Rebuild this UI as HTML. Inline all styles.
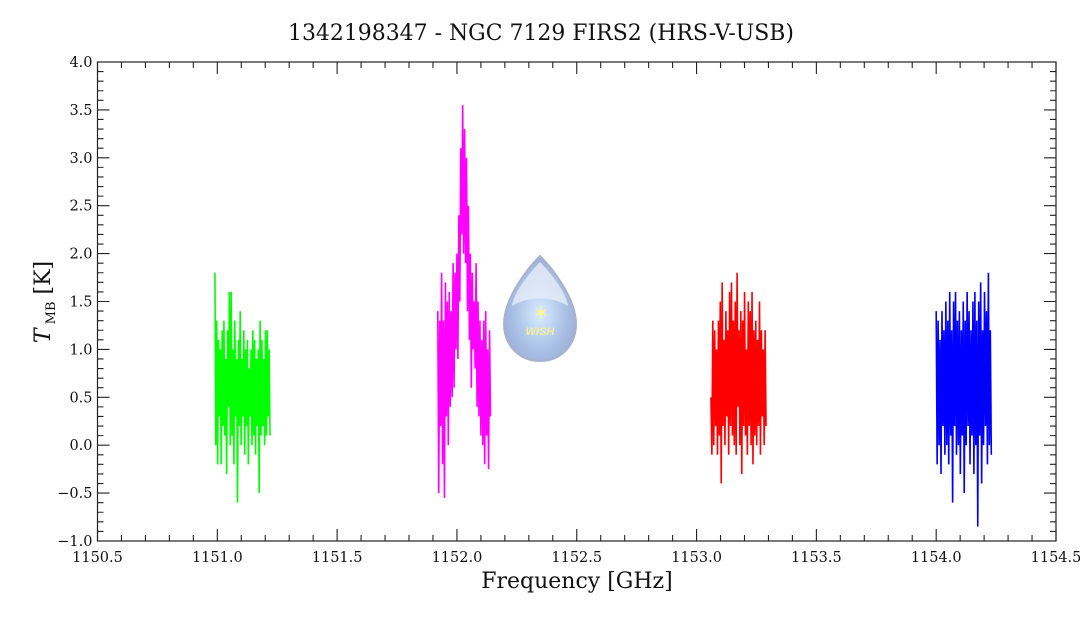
<!DOCTYPE html>
<html><head><meta charset="utf-8"><style>
body{margin:0;background:#fff;}
svg text{font-family:"DejaVu Serif","Liberation Serif",serif;fill:#111;}
</style></head><body>
<svg id="chart" width="1080" height="618" viewBox="0 0 1080 618" xmlns="http://www.w3.org/2000/svg">
<rect width="1080" height="618" fill="#fff"/>
<text x="541" y="40" text-anchor="middle" font-size="22" textLength="506" lengthAdjust="spacingAndGlyphs">1342198347 - NGC 7129 FIRS2 (HRS-V-USB)</text>
<g id="axes"></g>
<g id="series"></g>
<g>
<defs>
<radialGradient id="lg" cx="0.5" cy="0.55" r="0.6"><stop offset="0" stop-color="#d8ecff"/><stop offset="0.6" stop-color="#a9c0e6"/><stop offset="1" stop-color="#9aa8d0"/></radialGradient>
</defs>
<path d="M540,256 C552,268 576,298 576,324 C576,346 560,361 540,361 C520,361 504,346 504,324 C504,298 528,268 540,256 Z" fill="url(#lg)" stroke="#a8b2cf" stroke-width="2"/>
<path d="M540,262 C550,272 566,292 568,306 C552,296 528,296 512,306 C514,292 530,272 540,262 Z" fill="#e6eef8" opacity="0.8"/>
<text x="541" y="319" text-anchor="middle" font-size="18" style="fill:#fff78a">✶</text>
<text x="540" y="335" text-anchor="middle" font-size="11" font-style="italic" font-weight="bold" style="fill:#f4f09a;font-family:'Liberation Sans',sans-serif">WISH</text>
</g>
<text x="577" y="588" text-anchor="middle" font-size="22">Frequency [GHz]</text>
<text transform="translate(50,302) rotate(-90)" text-anchor="middle" font-size="22"><tspan font-style="italic">T</tspan><tspan font-size="13" dy="5"> MB</tspan><tspan dy="-5"> [K]</tspan></text>
</svg>
<script>
const xTicks=["1150.5","1151.0","1151.5","1152.0","1152.5","1153.0","1153.5","1154.0","1154.5"];
const yTicks=["-1.0","-0.5","0.0","0.5","1.0","1.5","2.0","2.5","3.0","3.5","4.0"];
const greenRange=[1150.99,1151.22];
const greenVals=[1.8,0.0,1.3,-0.2,1.1,0.3,1.0,-0.2,1.2,0.2,1.3,0.1,0.9,-0.3,1.2,0.4,1.6,0.0,1.6,0.1,1.0,-0.2,1.3,0.3,0.9,-0.6,1.1,0.2,1.4,0.0,0.9,0.3,1.2,-0.1,1.0,0.2,1.1,-0.2,0.8,0.3,1.0,0.0,1.2,0.1,1.1,-0.1,0.9,0.2,1.0,-0.5,1.3,0.1,1.1,0.2,0.9,0.0,1.2,0.1,1.2,0.3,1.0,0.1];
const magentaRange=[1151.92,1152.14];
const magentaVals=[1.4,-0.5,1.3,0.2,1.8,-0.2,1.3,-0.55,1.7,0.3,1.5,0.0,1.6,0.4,1.4,0.5,1.9,0.6,1.8,1.0,2.0,0.9,2.4,1.5,3.1,2.2,3.55,2.0,3.3,1.9,3.0,1.4,2.5,1.1,2.0,0.6,1.8,1.0,1.5,0.8,1.9,0.4,1.5,0.3,1.3,0.1,1.1,0.0,1.3,-0.2,1.4,0.1,1.0,-0.25,1.2,0.3];
const redRange=[1153.06,1153.29];
const redVals=[0.5,-0.1,1.3,0.0,1.2,0.2,1.0,-0.1,1.3,0.1,1.5,-0.4,1.7,0.2,1.1,0.0,1.4,0.3,1.2,-0.1,1.6,0.2,1.7,0.1,1.3,0.0,1.5,-0.1,1.8,0.4,1.2,0.0,1.4,-0.3,1.3,0.2,1.6,0.1,1.0,-0.1,1.5,0.2,1.4,0.0,1.6,-0.2,1.2,0.1,1.3,0.0,1.1,0.2,1.5,-0.1,1.2,0.3,1.0,0.0,1.2,0.2];
const blueRange=[1154.00,1154.23];
const blueVals=[1.4,-0.2,1.3,0.0,1.1,-0.3,1.4,0.2,1.2,-0.1,1.5,0.0,1.3,-0.2,1.6,0.1,1.2,-0.6,1.5,0.2,1.6,-0.1,1.3,0.0,1.4,-0.3,1.2,0.1,1.5,-0.5,1.3,0.0,1.6,0.2,1.4,-0.2,1.2,0.1,1.5,-0.3,1.6,0.0,1.3,-0.85,1.5,0.1,1.7,-0.4,1.2,0.0,1.6,0.2,1.4,-0.2,1.8,0.0,1.2,-0.1];
const L=97.5,R=1056,T=62,B=541;
const xMin=1150.5,xMax=1154.5,yMin=-1,yMax=4;
const sx=v=>L+(v-xMin)/(xMax-xMin)*(R-L);
const sy=v=>B-(v-yMin)/(yMax-yMin)*(B-T);
const NS="http://www.w3.org/2000/svg";
const axes=document.getElementById('axes');
function mk(tag,attrs,parent){const e=document.createElementNS(NS,tag);for(const k in attrs)e.setAttribute(k,attrs[k]);parent.appendChild(e);return e;}
const frame=mk('rect',{x:L,y:T,width:R-L,height:B-T,fill:'none',stroke:'#222','stroke-width':1.2},axes);


let tp='';
for(let i=0;i<=40;i++){const v=xMin+i*0.1;const x=sx(v);const len=(i%5==0)?12:6;tp+=`M${x},${B}v${-len}M${x},${T}v${len}`;}
for(let i=0;i<=50;i++){const v=yMin+i*0.1;const y=sy(v);const len=(i%5==0)?12:6;tp+=`M${L},${y}h${len}M${R},${y}h${-len}`;}
const ticks=mk('path',{d:tp,stroke:'#222','stroke-width':1.1,fill:'none'},axes);


xTicks.forEach(t=>{const e=mk('text',{x:sx(parseFloat(t)),y:B+21,'text-anchor':'middle','font-size':14.5},axes);e.textContent=t;

});
yTicks.forEach(t=>{const e=mk('text',{x:L-5,y:sy(parseFloat(t))+5,'text-anchor':'end','font-size':14.5},axes);e.textContent=t.replace('-','−');

});
const sg=document.getElementById('series');
function draw(range,vals,color,name){const n=vals.length;const pts=vals.map((v,i)=>`${sx(range[0]+(range[1]-range[0])*i/(n-1)).toFixed(2)},${sy(v).toFixed(2)}`).join(' ');
const p=mk('polyline',{points:pts,fill:'none',stroke:color,'stroke-width':1.6},sg);

}
draw(greenRange,greenVals,'#00ff00','series-green');
draw(magentaRange,magentaVals,'#ff00ff','series-magenta');
draw(redRange,redVals,'#ff0000','series-red');
draw(blueRange,blueVals,'#0000ff','series-blue');
</script>
</body></html>
